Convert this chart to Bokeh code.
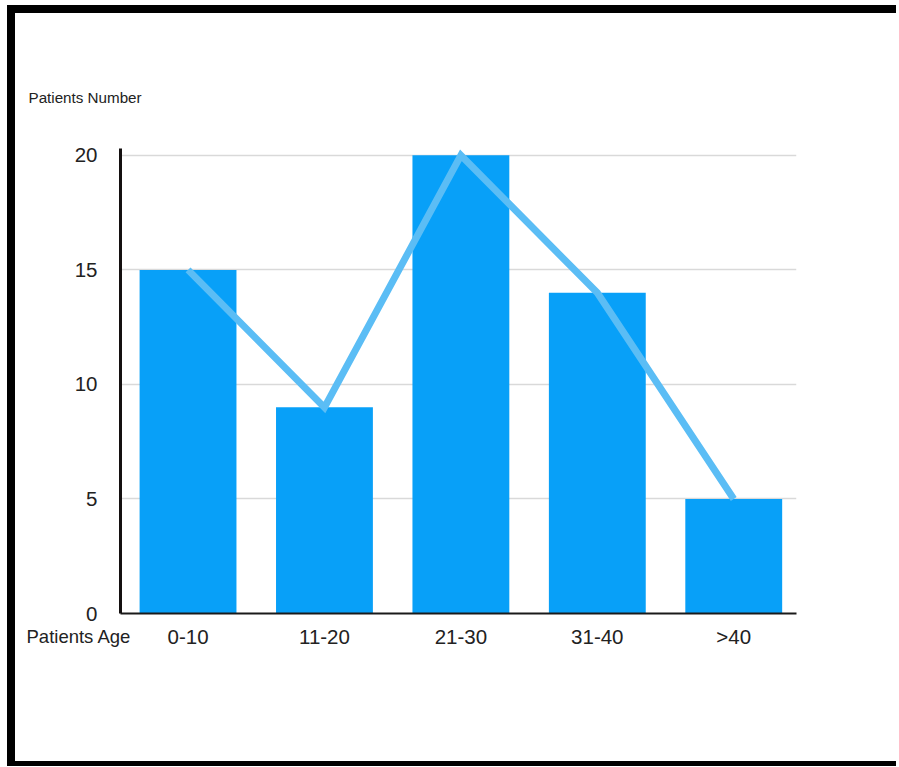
from bokeh.plotting import figure
from bokeh.models import Range1d, FixedTicker, Title
from bokeh.layouts import column
from bokeh.embed import file_html
from bokeh.resources import INLINE

categories = ["0-10", "11-20", "21-30", "31-40", ">40"]
patients = [15, 9, 20, 14, 5]
y_ticks = [0, 5, 10, 15, 20]
y_title = "Patients Number"
x_title = "Patients Age"

xs = list(range(len(categories)))
FONT = "Liberation Sans"

p = figure(width=870, height=748, output_backend="svg", toolbar_location=None,
           x_range=Range1d(-0.495, 4.46), y_range=Range1d(0, 20.3),
           min_border_left=105, min_border_right=89,
           min_border_top=135, min_border_bottom=148)
p.outline_line_color = None
p.background_fill_color = "white"
p.border_fill_color = "white"

p.vbar(x=xs, top=patients, width=0.71, fill_color="#08A0F8", line_color=None)
p.line(x=xs, y=patients, line_width=7, line_color="#5BBDF5", line_join="miter")

p.xgrid.visible = False
p.ygrid.ticker = FixedTicker(ticks=[t for t in y_ticks if t > 0])
p.ygrid.grid_line_color = "#D9D9D9"
p.ygrid.grid_line_width = 1.5

p.yaxis.ticker = FixedTicker(ticks=y_ticks)
p.yaxis.major_tick_line_color = None
p.yaxis.major_tick_out = 0
p.yaxis.minor_tick_line_color = None
p.yaxis.axis_line_width = 3
p.yaxis.axis_line_color = "#141010"
p.yaxis.major_label_text_font = FONT
p.yaxis.major_label_text_font_size = "20.5px"
p.yaxis.major_label_text_color = "#222222"
p.yaxis.major_label_standoff = 23

p.xaxis.ticker = FixedTicker(ticks=xs)
p.xaxis.major_label_overrides = {i: c for i, c in zip(xs, categories)}
p.xaxis.major_tick_line_color = None
p.xaxis.major_tick_out = 0
p.xaxis.minor_tick_line_color = None
p.xaxis.axis_line_width = 2
p.xaxis.axis_line_color = "#1a1a1a"
p.xaxis.major_label_text_font = FONT
p.xaxis.major_label_text_font_size = "20.5px"
p.xaxis.major_label_text_color = "#222222"
p.xaxis.major_label_standoff = 11

p.title = Title(text=y_title, align="left", offset=-92, standoff=86,
                text_font=FONT, text_font_size="15.2px", text_font_style="normal",
                text_color="#222222")

p.add_layout(Title(text=x_title, align="left", offset=-94, standoff=-50,
                   vertical_align="top",
                   text_font=FONT, text_font_size="18.5px", text_font_style="normal",
                   text_color="#222222"), "below")

layout = column(p, styles={"border-top": "8px solid black",
                           "border-left": "8px solid black",
                           "border-bottom": "5px solid black",
                           "padding-right": "11px",
                           "margin-top": "5px", "margin-left": "7px",
                           "background-color": "white"})

open("out.html", "w").write(file_html(layout, INLINE))
